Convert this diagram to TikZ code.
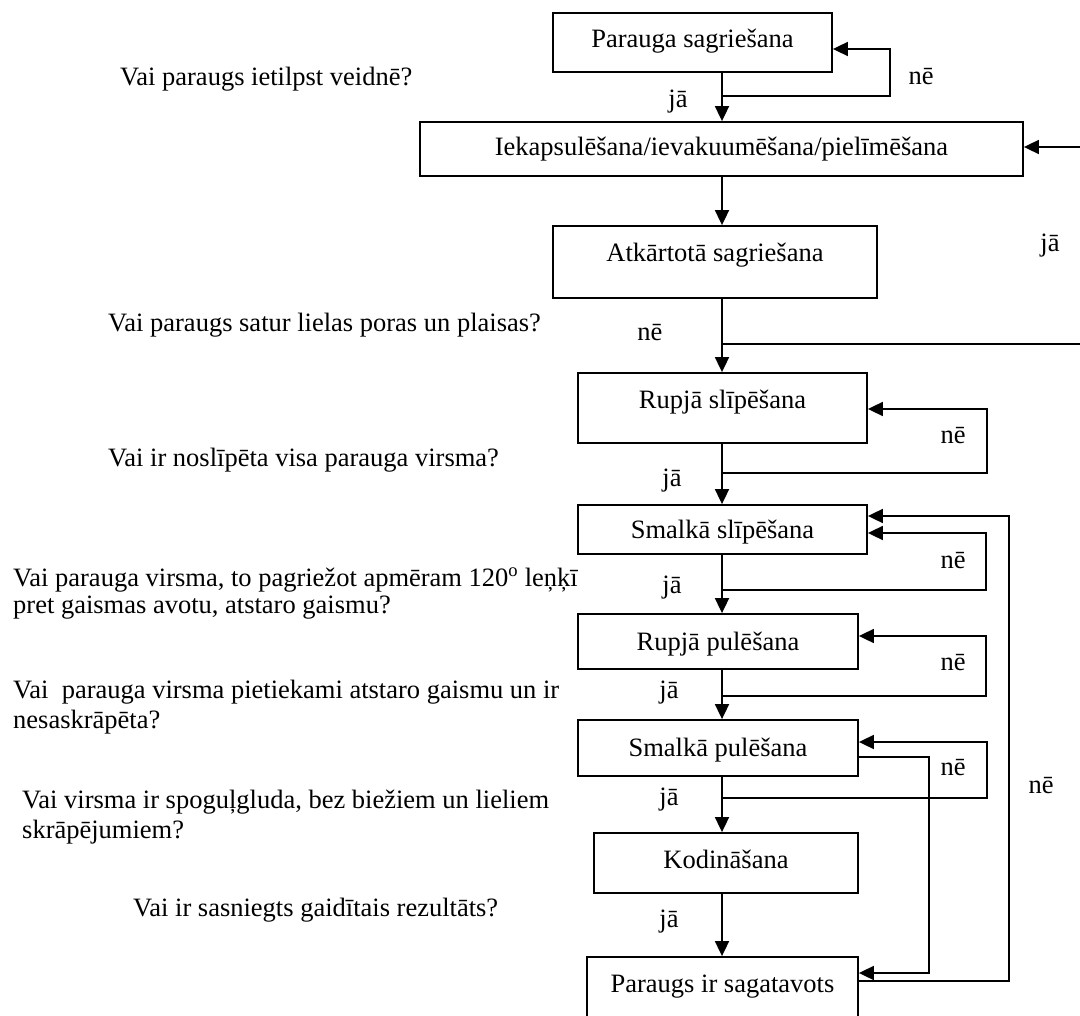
\documentclass[tikz,border=0pt]{standalone}
\usepackage{fontspec}
\setmainfont{Liberation Serif}
\usetikzlibrary{arrows.meta}
\begin{document}
\begin{tikzpicture}[x=1pt,y=-1pt,
  every node/.style={font=\fontsize{26.5}{30}\selectfont, inner sep=0pt},
  box/.style={draw, line width=1.8pt, rectangle, text height=18pt},
  arr/.style={line width=1.8pt, -{Triangle[length=15pt,width=14pt]}},
  lbl/.style={anchor=base},
  q/.style={anchor=base west}]
\useasboundingbox (0,0) rectangle (1080,1016);
\clip (0,0) rectangle (1080,1016);
\fill[white] (0,0) rectangle (1080,1016);

% boxes
\node[box, minimum width=279pt, minimum height=59pt, text depth=7pt] (b1) at (692.5,42.5) {Parauga sagriešana};
\node[box, minimum width=603pt, minimum height=54pt, text depth=4pt] (b2) at (721.5,149) {Iekapsulēšana/ievakuumēšana/pielīmēšana};
\node[box, minimum width=324pt, minimum height=72pt, text depth=18pt] (b3) at (715,262) {Atkārtotā sagriešana};
\node[box, minimum width=289pt, minimum height=70pt, text depth=16pt] (b4) at (722.5,408) {Rupjā slīpēšana};
\node[box, minimum width=289pt, minimum height=49pt, text depth=1pt] (b5) at (722.5,529.5) {Smalkā slīpēšana};
\node[box, minimum width=280pt, minimum height=55pt, text depth=1pt] (b6) at (718,641.5) {Rupjā pulēšana};
\node[box, minimum width=280pt, minimum height=56pt, text depth=2pt] (b7) at (718,748) {Smalkā pulēšana};
\node[box, minimum width=264pt, minimum height=60pt, text depth=8pt] (b8) at (726,863) {Kodināšana};
\node[box, minimum width=271pt, minimum height=67pt, text depth=15pt] (b9) at (722.5,990.5) {Paraugs ir sagatavots};

% main axis
\coordinate (ax) at (722,0);
\draw[arr] (b1.south -| ax) -- (b2.north -| ax);
\draw[arr] (b2.south -| ax) -- (b3.north -| ax);
\draw[arr] (b3.south -| ax) -- (b4.north -| ax);
\draw[arr] (b4.south -| ax) -- (b5.north -| ax);
\draw[arr] (b5.south -| ax) -- (b6.north -| ax);
\draw[arr] (b6.south -| ax) -- (b7.north -| ax);
\draw[arr] (b7.south -| ax) -- (b8.north -| ax);
\draw[arr] (b8.south -| ax) -- (b9.north -| ax);

% loops
\coordinate (j1) at (722,96);  \coordinate (c1) at (890,49);
\draw[arr] (j1) -| (c1) -- (c1 -| b1.east);
\coordinate (j3) at (722,344); \coordinate (c3) at (1086,147);
\draw[arr] (j3) -| (c3) -- (c3 -| b2.east);
\coordinate (j4) at (722,473); \coordinate (c4) at (987,409);
\draw[arr] (j4) -| (c4) -- (c4 -| b4.east);
\coordinate (j5) at (722,590); \coordinate (c5) at (986,533);
\draw[arr] (j5) -| (c5) -- (c5 -| b5.east);
\coordinate (j6) at (722,696); \coordinate (c6) at (986,636);
\draw[arr] (j6) -| (c6) -- (c6 -| b6.east);
\coordinate (j7) at (722,798); \coordinate (c7) at (987,742);
\draw[arr] (j7) -| (c7) -- (c7 -| b7.east);
\coordinate (r8) at (0,981); \coordinate (c8) at (1009,516);
\draw[arr] (b9.east |- r8) -| (c8) -- (c8 -| b5.east);
\coordinate (c9a) at (929,757); \coordinate (c9b) at (929,973);
\draw[arr] (b7.east |- c9a) -- (c9a) -- (c9b) -- (c9b -| b9.east);

% connector labels
\node[lbl] (n1) at (921,85) {nē};
\node[lbl] (y1) at (678,108) {jā};
\node[lbl] (y2) at (1050,252) {jā};
\node[lbl] (n3) at (650,341) {nē};
\node[lbl] (n4) at (953,443) {nē};
\node[lbl] (y4) at (672,486) {jā};
\node[lbl] (n5) at (953,568) {nē};
\node[lbl] (y5) at (672,593) {jā};
\node[lbl] (n6) at (953,670) {nē};
\node[lbl] (y6) at (669,698) {jā};
\node[lbl] (n7) at (953,775) {nē};
\node[lbl] (y7) at (669,805) {jā};
\node[lbl] (n8) at (1041,793) {nē};
\node[lbl] (y8) at (669,927) {jā};

% questions
\node[q] (t1) at (120,86) {Vai paraugs ietilpst veidnē?};
\node[q] (t2) at (108,332) {Vai paraugs satur lielas poras un plaisas?};
\node[q] (t3) at (108,467) {Vai ir noslīpēta visa parauga virsma?};
\node[q] (t4a) at (13,586) {Vai parauga virsma, to pagriežot apmēram 120\textsuperscript{o} leņķī};
\node[q] (t4b) at (13,613) {pret gaismas avotu, atstaro gaismu?};
\node[q] (t5a) at (13,698) {Vai\ \ parauga virsma pietiekami atstaro gaismu un ir};
\node[q] (t5b) at (13,728) {nesaskrāpēta?};
\node[q] (t6a) at (22,808) {Vai virsma ir spoguļgluda, bez biežiem un lieliem};
\node[q] (t6b) at (22,838) {skrāpējumiem?};
\node[q] (t7) at (133,916) {Vai ir sasniegts gaidītais rezultāts?};
\end{tikzpicture}
\end{document}
